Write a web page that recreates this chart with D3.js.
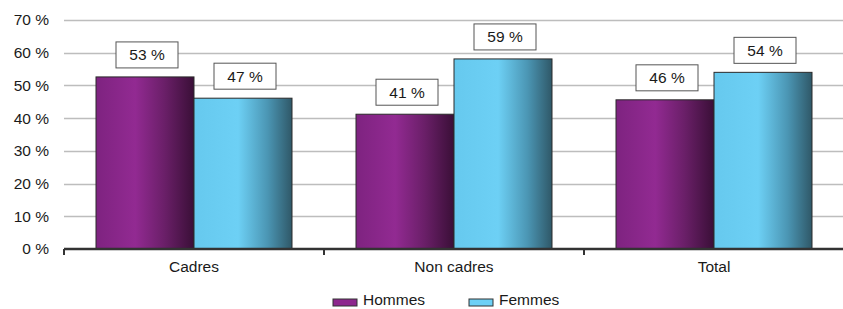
<!DOCTYPE html>
<html>
<head>
<meta charset="utf-8">
<script src="https://cdn.jsdelivr.net/npm/d3@7"></script>
<style>
  body { margin: 0; background: #fff; }
  svg { display: block; font-family: Helvetica, Arial, "Liberation Sans", sans-serif; }
</style>
</head>
<body>
<div id="chart"></div>
<script>
// data
var categories = ["Cadres", "Non cadres", "Total"];
var series = ["Hommes", "Femmes"];
var hommes = [52.6, 41.2, 45.6];
var femmes = [46.1, 58.1, 54.0];
var hommesLabels = ["53 %", "41 %", "46 %"];
var femmesLabels = ["47 %", "59 %", "54 %"];
var yTicks = [0, 10, 20, 30, 40, 50, 60, 70];

var svgWidth = 843, svgHeight = 309;
var margin = { top: 20, right: -1, bottom: 60, left: 64 };
var chartWidth = svgWidth - margin.left - margin.right;
var chartHeight = 249 - margin.top;

var svg = d3.select("#chart").append("svg")
  .attr("width", svgWidth)
  .attr("height", svgHeight);

var defs = svg.append("defs");
function gradient(id, stops) {
  var g = defs.append("linearGradient").attr("id", id)
    .attr("x1", "0%").attr("x2", "100%").attr("y1", "0%").attr("y2", "0%");
  stops.forEach(function(s) {
    g.append("stop").attr("offset", s[0]).attr("stop-color", s[1]);
  });
}
gradient("gH", [["0%", "#7e2380"], ["40%", "#922a92"], ["70%", "#6a1f68"], ["100%", "#3a0f37"]]);
gradient("gF", [["0%", "#66c9ee"], ["45%", "#6dd0f5"], ["75%", "#4b96b4"], ["100%", "#2f5868"]]);

var chartGroup = svg.append("g")
  .attr("transform", `translate(${margin.left}, ${margin.top})`);

var yScale = d3.scaleLinear().domain([0, 70]).range([chartHeight, 0]);
var xScale = d3.scaleBand().domain(categories).range([0, chartWidth]).paddingInner(0).paddingOuter(0);
var inner = d3.scaleBand().domain(series).range([32, xScale.bandwidth() - 32]);

// gridlines
chartGroup.selectAll(".grid")
  .data(yTicks.slice(1))
  .enter()
  .append("line")
  .attr("x1", 0)
  .attr("x2", chartWidth)
  .attr("y1", d => Math.round(yScale(d)) + 0.5)
  .attr("y2", d => Math.round(yScale(d)) + 0.5)
  .attr("stroke", "#bdbdbd")
  .attr("stroke-width", 1.5);

// y labels
chartGroup.selectAll(".ylab")
  .data(yTicks)
  .enter()
  .append("text")
  .attr("x", -15)
  .attr("y", d => yScale(d))
  .attr("dy", "0.35em")
  .attr("text-anchor", "end")
  .attr("font-size", 15.5)
  .attr("fill", "#1a1a1a")
  .text(d => d + " %");

// bars
var rows = categories.map((c, i) => ({ cat: c, vals: [hommes[i], femmes[i]], labs: [hommesLabels[i], femmesLabels[i]] }));
var groups = chartGroup.selectAll(".cat")
  .data(rows)
  .enter()
  .append("g")
  .attr("transform", d => `translate(${xScale(d.cat)},0)`);

groups.selectAll("rect.bar")
  .data(d => d.vals.map((v, j) => ({ s: series[j], v: v, lab: d.labs[j] })))
  .enter()
  .append("rect")
  .attr("class", "bar")
  .attr("x", d => inner(d.s))
  .attr("y", d => yScale(d.v))
  .attr("width", inner.bandwidth())
  .attr("height", d => chartHeight - yScale(d.v))
  .attr("fill", d => d.s === "Hommes" ? "url(#gH)" : "url(#gF)")
  .attr("stroke", "#2a2a2a")
  .attr("stroke-width", 1);

// value label boxes
var boxW = 62, boxH = 26;
var labs = groups.selectAll("g.lab")
  .data(d => d.vals.map((v, j) => ({ s: series[j], v: v, lab: d.labs[j] })))
  .enter()
  .append("g")
  .attr("transform", d => `translate(${inner(d.s) + inner.bandwidth() / 2 + 2},${yScale(d.v) - 9 - boxH})`);

labs.append("rect")
  .attr("x", -boxW / 2)
  .attr("y", 0)
  .attr("width", boxW)
  .attr("height", boxH)
  .attr("fill", "#fff")
  .attr("stroke", "#555")
  .attr("stroke-width", 1);

labs.append("text")
  .attr("x", 0)
  .attr("y", boxH / 2)
  .attr("dy", "0.35em")
  .attr("text-anchor", "middle")
  .attr("font-size", 15.5)
  .attr("fill", "#1a1a1a")
  .text(d => d.lab);

// x axis
var xAxis = chartGroup.append("g")
  .attr("transform", `translate(0, ${chartHeight})`);
xAxis.append("line")
  .attr("x1", 0).attr("x2", chartWidth)
  .attr("y1", 0).attr("y2", 0)
  .attr("stroke", "#333").attr("stroke-width", 2.5);
xAxis.selectAll(".tick")
  .data([0, 1, 2, 3])
  .enter()
  .append("line")
  .attr("x1", d => d * xScale.step())
  .attr("x2", d => d * xScale.step())
  .attr("y1", 0).attr("y2", 6)
  .attr("stroke", "#333").attr("stroke-width", 2);
xAxis.selectAll(".xlab")
  .data(categories)
  .enter()
  .append("text")
  .attr("x", d => xScale(d) + xScale.bandwidth() / 2)
  .attr("y", 23)
  .attr("text-anchor", "middle")
  .attr("font-size", 15.5)
  .attr("fill", "#1a1a1a")
  .text(d => d);

// legend
var legend = svg.append("g");
var legX = [333, 469];
series.forEach(function(s, i) {
  legend.append("rect")
    .attr("x", legX[i]).attr("y", 299)
    .attr("width", 24).attr("height", 7)
    .attr("fill", s === "Hommes" ? "#8e278e" : "#6dd0f5")
    .attr("stroke", "#333").attr("stroke-width", 1);
  legend.append("text")
    .attr("x", legX[i] + 30).attr("y", 305)
    .attr("font-size", 15.5)
    .attr("fill", "#1a1a1a")
    .text(s);
});
</script>
</body>
</html>
